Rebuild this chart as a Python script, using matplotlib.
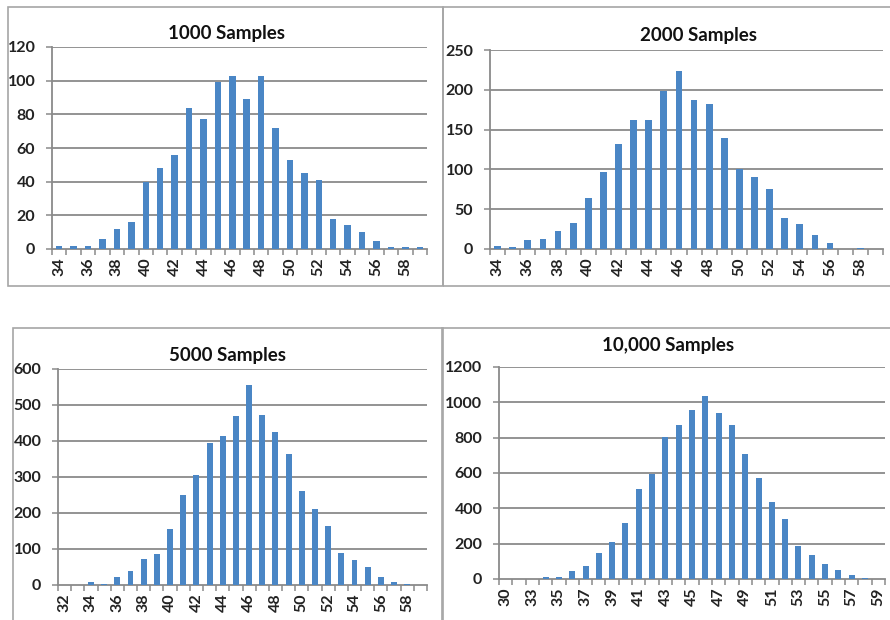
import matplotlib
matplotlib.use("Agg")
import matplotlib.pyplot as plt
from matplotlib.patches import Rectangle

plt.rcParams['font.family'] = ['Lato', 'DejaVu Sans']

# ---- data ----
cats_1000 = list(range(34, 60))
vals_1000 = [2, 2, 2, 6, 12, 16, 40, 48, 56, 84, 77, 99, 103, 89, 103, 72,
             53, 45, 41, 18, 14, 10, 5, 1, 1, 1]

cats_2000 = list(range(34, 60))
vals_2000 = [4, 2, 11, 13, 22, 33, 64, 97, 132, 162, 162, 199, 223, 187, 182,
             139, 100, 91, 76, 39, 31, 17, 7, 0, 1, 0]

cats_5000 = list(range(32, 60))
vals_5000 = [1, 1, 8, 3, 22, 38, 73, 87, 155, 250, 305, 395, 415, 470, 555,
             472, 425, 365, 262, 210, 165, 90, 70, 50, 22, 8, 3, 1]

cats_10000 = [30, 32] + list(range(33, 60))
vals_10000 = [1, 1, 2, 12, 14, 43, 75, 147, 209, 319, 509, 596, 804, 870, 955,
              1034, 940, 874, 706, 572, 438, 340, 185, 138, 85, 53, 25, 6, 2]

titles = ["1000 Samples", "2000 Samples", "5000 Samples", "10,000 Samples"]
ymaxes = [120, 250, 600, 1200]
ysteps = [20, 50, 100, 200]

W, H = 890, 620
fig = plt.figure(figsize=(W / 100, H / 100), dpi=100)

def fx(px):
    return px / W

def fy(py):
    return 1 - py / H

# panel borders (pixel boxes)
borders = [(8, 7, 443, 286), (443, 7, 893, 286), (13, 328, 443, 625), (442, 328, 893, 625)]
for (x0, y0, x1, y1) in borders:
    fig.patches.append(Rectangle((fx(x0), fy(y1)), fx(x1 - x0), (y1 - y0) / H,
                                 transform=fig.transFigure, fill=False,
                                 edgecolor='#a6a6a6', linewidth=1.2, zorder=0))

# axes boxes in pixels: left, top, right, bottom
boxes = [(52, 47, 427, 249), (490, 50, 883, 249), (58, 369, 427, 585), (499, 367, 885, 579)]
title_pos = [(226, 33), (698, 35), (228, 355), (668, 346)]

data = [(cats_1000, vals_1000), (cats_2000, vals_2000),
        (cats_5000, vals_5000), (cats_10000, vals_10000)]

bar_color = '#4a86c5'
grid_color = '#8a8a8a'

for i, ((cats, vals), box) in enumerate(zip(data, boxes)):
    l, t, r, b = box
    ax = fig.add_axes([fx(l), fy(b), (r - l) / W, (b - t) / H])
    n = len(cats)
    xs = list(range(n))
    ax.bar(xs, vals, width=0.45, color=bar_color, zorder=3)
    ax.set_xlim(-0.5, n - 0.5)
    ax.set_ylim(0, ymaxes[i])
    yt = list(range(0, ymaxes[i] + 1, ysteps[i]))
    ax.set_yticks(yt)
    ax.set_yticklabels([str(v) for v in yt])
    for v in yt[1:]:
        ax.axhline(v, color=grid_color, lw=1.3, zorder=1)
    ax.set_xticks(xs[::2])
    ax.set_xticklabels([str(cats[k]) for k in xs[::2]], rotation=90)
    ax.set_xticks([k - 0.5 for k in range(n + 1)], minor=True)
    ax.tick_params(axis='x', which='major', length=0, pad=6, labelsize=11.5,
                   labelcolor='#222222')
    ax.tick_params(axis='x', which='minor', length=4, color=grid_color, width=1.1,
                   direction='out')
    ax.tick_params(axis='y', which='major', length=4, color=grid_color, width=1.1,
                   pad=8, labelsize=11.5, labelcolor='#222222')
    for lab in ax.get_xticklabels() + ax.get_yticklabels():
        lab.set_fontweight('bold')
    for s in ['top', 'right']:
        ax.spines[s].set_visible(False)
    for s in ['left', 'bottom']:
        ax.spines[s].set_color(grid_color)
        ax.spines[s].set_linewidth(1.3)
    ax.set_facecolor('none')
    tx, ty = title_pos[i]
    fig.text(fx(tx), fy(ty), titles[i], ha='center', va='center',
             fontsize=13.5, fontweight='bold', color='#111111')

fig.savefig("out.png", dpi=100, facecolor='white')
